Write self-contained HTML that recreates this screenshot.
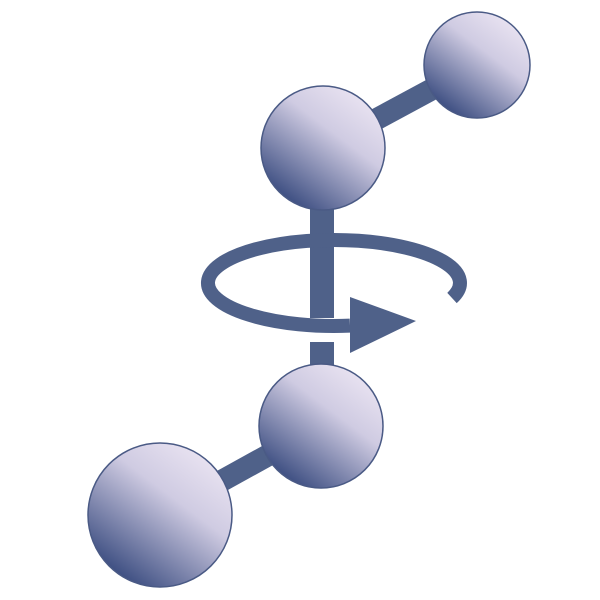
<!DOCTYPE html>
<html><head><meta charset="utf-8"><style>html,body{margin:0;padding:0;background:#fff;width:600px;height:600px;overflow:hidden}</style></head>
<body>
<svg width="600" height="600" viewBox="0 0 600 600">
<defs>
<linearGradient id="g" x1="0.8" y1="0.1" x2="0.2" y2="0.9">
<stop offset="0" stop-color="#e7e1f0"/>
<stop offset="0.35" stop-color="#cfcbe2"/>
<stop offset="1" stop-color="#3f5083"/>
</linearGradient>
</defs>
<g stroke="#4f6189" stroke-width="22">
<line x1="477" y1="65" x2="323" y2="148"/>
<line x1="321" y1="426" x2="160" y2="515"/>
</g>
<rect x="310" y="200" width="24" height="118" fill="#4f6189"/>
<rect x="310" y="342" width="24" height="30" fill="#4f6189"/>
<path d="M 452 298 A 126 43 0 1 0 350 325.6" fill="none" stroke="#4f6189" stroke-width="14"/>
<polygon points="350,297 416,321 350,353" fill="#4f6189"/>
<g fill="url(#g)" stroke="#4a5a85" stroke-width="1.5">
<circle cx="477" cy="65" r="53"/>
<circle cx="323" cy="148" r="62"/>
<circle cx="321" cy="426" r="62"/>
<circle cx="160" cy="515" r="72"/>
</g>
</svg>
</body></html>
